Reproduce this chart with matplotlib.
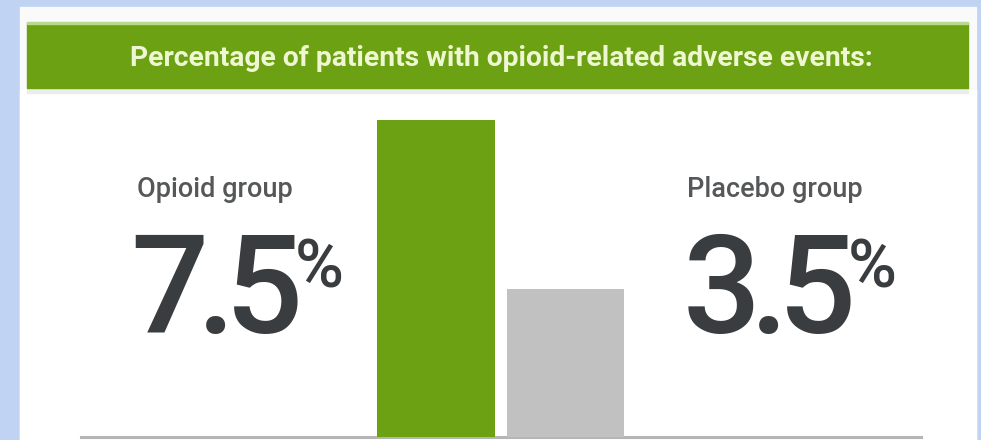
import matplotlib
matplotlib.use("Agg")
import matplotlib.pyplot as plt
from matplotlib.patches import Rectangle
from matplotlib import font_manager

# adverse event rates (%) per study arm
groups = ["Opioid group", "Placebo group"]
rates = [7.5, 3.5]
title = "Percentage of patients with opioid-related adverse events:"

GREEN = "#6ba112"
GREY = "#c1c1c1"
DARK = "#3a3d3f"
LABEL = "#555759"

names = {f.name for f in font_manager.fontManager.ttflist}
head_font = "Liberation Sans Narrow" if "Liberation Sans Narrow" in names else "Roboto"

W, H = 981, 440
fig = plt.figure(figsize=(W / 100, H / 100), dpi=100)
fig.patch.set_facecolor("#c0d3f3")

# backdrop in pixel units, y pointing down
bg = fig.add_axes([0, 0, 1, 1])
bg.set_xlim(0, W)
bg.set_ylim(H, 0)
bg.axis("off")
bg.add_patch(Rectangle((20, 7), 956, 440, color="#fafafa"))
bg.add_patch(Rectangle((20, 90), 956, 360, color="white"))
bg.add_patch(Rectangle((27, 88), 941, 5, color="#ececec"))
bg.add_patch(Rectangle((27, 23), 941, 65, color=GREEN))
bg.add_patch(Rectangle((27, 22), 941, 2, color="#b9d98c"))
bg.text(501, 66, title, ha="center", va="baseline", fontsize=20.3,
        fontweight="bold", family=head_font, color="#eef6d2")

# bars
ax = fig.add_axes([81 / W, 3 / H, 840 / W, 338 / H])
ax.bar(range(len(rates)), rates, width=0.91, color=[GREEN, GREY], zorder=3)
ax.set_xlim(-2.741, 3.745)
ax.set_ylim(0, 8)
ax.set_xticks([])
ax.set_yticks([])
ax.patch.set_alpha(0)
for s in ["top", "left", "right"]:
    ax.spines[s].set_visible(False)
ax.spines["bottom"].set_color("#b5b5b5")
ax.spines["bottom"].set_linewidth(2.2)
ax.spines["bottom"].set_zorder(1)

renderer = fig.canvas.get_renderer()


def spaced(x, y, s, gap, **kw):
    # draw one glyph at a time so the big digits sit close together
    for ch in s:
        t = bg.text(x, y, ch, ha="left", va="baseline", **kw)
        x += t.get_window_extent(renderer).width + gap
    return x - gap


label_x = [137, 687]
num_x = [130, 683]
for i in range(len(groups)):
    bg.text(label_x[i], 197, groups[i], ha="left", va="baseline",
            fontsize=19.5, family="Roboto", fontweight="medium", color=LABEL)
    end = spaced(num_x[i], 333, f"{rates[i]:g}", -11, fontsize=99,
                 family="Roboto", fontweight="medium", color=DARK)
    bg.text(end - 8, 288, "%", ha="left", va="baseline", fontsize=48,
            family="Roboto", fontweight="medium", color=DARK)

fig.savefig("out.png", dpi=100, facecolor=fig.get_facecolor())
